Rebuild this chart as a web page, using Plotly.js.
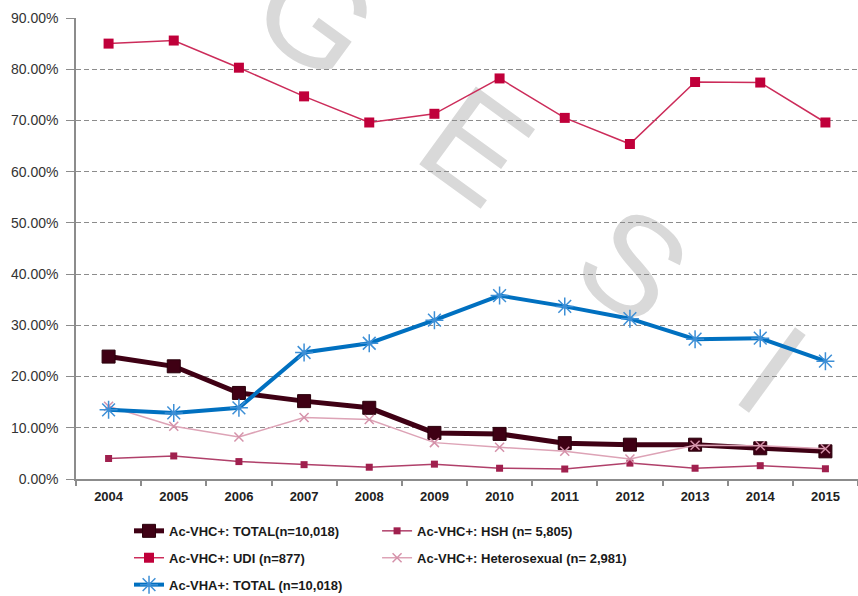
<!DOCTYPE html>
<html>
<head>
<meta charset="utf-8">
<script src="https://cdn.plot.ly/plotly-3.0.1.min.js"></script>
<style>
html,body{margin:0;padding:0;background:#fff;}
#wrap{position:relative;width:858px;height:596px;overflow:hidden;background:#fff;}
.wm{position:absolute;font-family:'Liberation Sans',Arial,sans-serif;font-size:140px;color:#d9d9d9;line-height:1;transform:translate(-50%,-50%) rotate(36deg);white-space:nowrap;}
#chart{position:absolute;left:0;top:0;width:858px;height:596px;}
</style>
</head>
<body>
<div id="wrap">
  <div class="wm" style="left:316px;top:16px;">G</div>
  <div class="wm" style="left:476px;top:146px;">E</div>
  <div class="wm" style="left:633px;top:265px;">S</div>
  <div class="wm" style="left:772px;top:370px;">I</div>
  <div id="chart"></div>
</div>
<script>
// ---- data (percent) ----
const years = ['2004','2005','2006','2007','2008','2009','2010','2011','2012','2013','2014','2015'];
const vhcTotal  = [23.9, 22.0, 16.8, 15.2, 13.9, 9.0, 8.8, 7.0, 6.7, 6.7, 6.0, 5.4];
const vhcHSH    = [4.0, 4.5, 3.4, 2.8, 2.3, 2.9, 2.1, 1.95, 3.1, 2.1, 2.6, 2.0];
const vhcUDI    = [85.0, 85.6, 80.3, 74.7, 69.6, 71.3, 78.2, 70.5, 65.4, 77.5, 77.4, 69.6];
const vhcHetero = [14.2, 10.3, 8.2, 12.0, 11.6, 7.1, 6.2, 5.4, 3.9, 6.6, 6.5, 5.9];
const vhaTotal  = [13.5, 12.9, 13.9, 24.7, 26.5, 31.0, 35.8, 33.7, 31.3, 27.3, 27.5, 23.0];
const seriesNames = [
  'Ac-VHC+: TOTAL(n=10,018)',
  'Ac-VHC+: HSH (n= 5,805)',
  'Ac-VHC+: UDI (n=877)',
  'Ac-VHC+: Heterosexual (n= 2,981)',
  'Ac-VHA+: TOTAL (n=10,018)'
];

const traces = [
  {x: years, y: vhcTotal, name: seriesNames[0], type: 'scatter', mode: 'lines+markers',
   legend: 'legend', legendgroup: 'g1',
   line: {color: '#3f0014', width: 5},
   marker: {symbol: 'square', size: 13, color: '#3f0014', line: {color: '#2a000c', width: 1}}},
  {x: years, y: vhcHSH, name: seriesNames[1], type: 'scatter', mode: 'lines+markers',
   legend: 'legend2', legendgroup: 'g2',
   line: {color: '#b0406a', width: 1.5},
   marker: {symbol: 'square', size: 7, color: '#a0204e'}},
  {x: years, y: vhcUDI, name: seriesNames[2], type: 'scatter', mode: 'lines+markers',
   legend: 'legend', legendgroup: 'g3',
   line: {color: '#cc2c5a', width: 1.5},
   marker: {symbol: 'square', size: 10, color: '#c0003a'}},
  {x: years, y: vhcHetero, name: seriesNames[3], type: 'scatter', mode: 'lines+markers',
   legend: 'legend2', legendgroup: 'g4',
   line: {color: '#dda3b6', width: 1.5},
   marker: {symbol: 'x-thin-open', size: 9, color: '#d592aa', line: {color: '#d592aa', width: 1.5}}},
  {x: years, y: vhaTotal, name: seriesNames[4], type: 'scatter', mode: 'lines+markers',
   legend: 'legend', legendgroup: 'g5',
   line: {color: '#0070c0', width: 4},
   marker: {symbol: 'asterisk-open', size: 15, color: '#3d8fd6', line: {color: '#3d8fd6', width: 1.5}}}
];

const legendFont = {family: "'Liberation Sans', Arial, sans-serif", size: 13, color: '#1a1a1a', weight: 'bold'};

const layout = {
  width: 858, height: 596,
  margin: {l: 76, r: 0, t: 18, b: 117, autoexpand: false},
  paper_bgcolor: 'rgba(0,0,0,0)',
  plot_bgcolor: 'rgba(0,0,0,0)',
  showlegend: true,
  xaxis: {
    type: 'category', range: [-0.5, 11.5], fixedrange: true,
    showline: true, linecolor: '#8c8c8c', linewidth: 1.5,
    ticks: 'outside', tickson: 'boundaries', ticklen: 5, tickcolor: '#8c8c8c', tickwidth: 1.5,
    showgrid: false, zeroline: false,
    tickfont: {family: "'Liberation Sans', Arial, sans-serif", size: 13, color: '#222', weight: 'bold'},
    ticklabelstandoff: 5
  },
  yaxis: {
    range: [0, 90], dtick: 10, tick0: 0, fixedrange: true,
    tickformat: '.2f', ticksuffix: '%',
    showline: true, linecolor: '#8c8c8c', linewidth: 1.5,
    ticks: 'outside', ticklen: 8, tickcolor: '#8c8c8c', tickwidth: 1,
    showgrid: true, gridcolor: '#8c8c8c', gridwidth: 1, griddash: '5px,3px',
    zeroline: false,
    tickfont: {family: "'Liberation Sans', Arial, sans-serif", size: 14, color: '#333'},
    ticklabelstandoff: 5
  },
  legend: {
    x: 0.0678, xanchor: 'left', y: -0.08, yanchor: 'top',
    orientation: 'v', traceorder: 'grouped', tracegroupgap: 7,
    bgcolor: 'rgba(0,0,0,0)', font: legendFont
  },
  legend2: {
    x: 0.385, xanchor: 'left', y: -0.08, yanchor: 'top',
    orientation: 'v', traceorder: 'grouped', tracegroupgap: 7,
    bgcolor: 'rgba(0,0,0,0)', font: legendFont
  }
};

Plotly.newPlot('chart', traces, layout, {displayModeBar: false});
</script>
</body>
</html>
